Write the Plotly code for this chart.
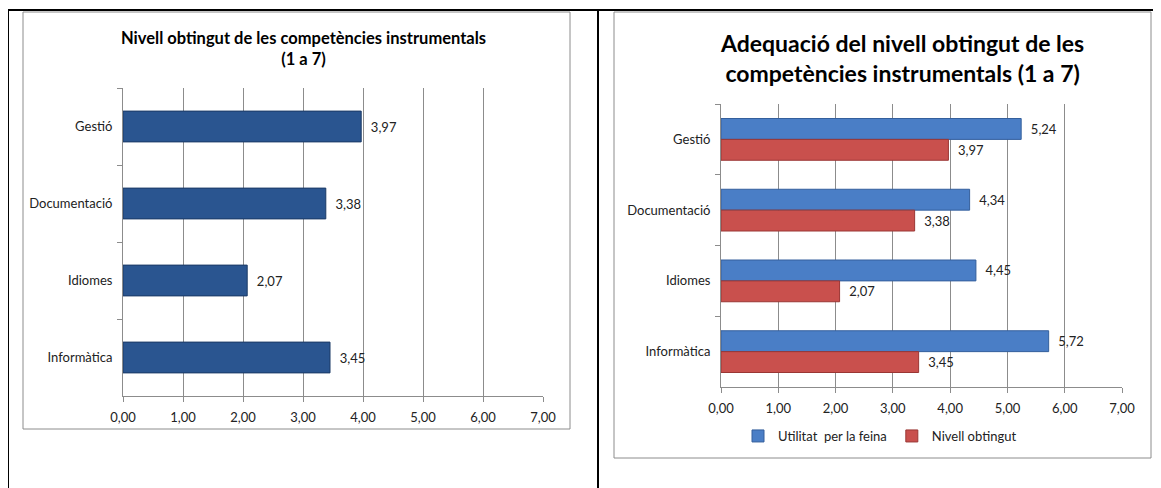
import plotly.graph_objects as go

W, H = 1161, 488

categories = ["Gestió", "Documentació", "Idiomes", "Informàtica"]
nivell_obtingut = [3.97, 3.38, 2.07, 3.45]
utilitat_feina = [5.24, 4.34, 4.45, 5.72]
x_ticks = [0, 1, 2, 3, 4, 5, 6, 7]

title_left = "Nivell obtingut de les competències instrumentals<br>(1 a 7)"
title_right = "Adequació del nivell obtingut de les<br>competències instrumentals (1 a 7)"
name_util = "Utilitat  per la feina"
name_niv = "Nivell obtingut"

FONT = "Lato, 'Open Sans', sans-serif"
GRID = "#8c8c8c"
OFF = 8  # page body margin compensation


def px(x):
    return (x - OFF) / W


def py(y):
    return 1 - (y - OFF) / H


fig = go.Figure()

fig.add_trace(go.Bar(
    y=categories, x=nivell_obtingut, orientation="h", width=0.4,
    marker=dict(color="#2a5590", line=dict(color="#1b3a66", width=1)),
    texttemplate="  %{x:.2f}", textposition="outside",
    textfont=dict(size=13, color="#222", family=FONT),
    cliponaxis=False, showlegend=False, xaxis="x", yaxis="y",
))

fig.add_trace(go.Bar(
    y=categories, x=utilitat_feina, orientation="h", name=name_util,
    marker=dict(color="#4a7ec6", line=dict(color="#345f9c", width=1)),
    texttemplate="  %{x:.2f}", textposition="outside",
    textfont=dict(size=13, color="#222", family=FONT),
    cliponaxis=False, xaxis="x2", yaxis="y2",
))
fig.add_trace(go.Bar(
    y=categories, x=nivell_obtingut, orientation="h", name=name_niv,
    marker=dict(color="#c9504d", line=dict(color="#9a3634", width=1)),
    texttemplate="  %{x:.2f}", textposition="outside",
    textfont=dict(size=13, color="#222", family=FONT),
    cliponaxis=False, xaxis="x2", yaxis="y2",
))

xax = dict(range=[0, 7], tickvals=x_ticks, tickformat=".2f", automargin=False,
           showgrid=True, gridcolor=GRID, gridwidth=1,
           showline=True, linecolor=GRID, linewidth=1,
           ticks="outside", ticklen=5, tickcolor=GRID, zeroline=False,
           ticklabelstandoff=4,
           tickfont=dict(size=13, color="#222", family=FONT), fixedrange=True)
yax = dict(autorange="reversed", showline=True, linecolor=GRID, linewidth=1,
           ticks="outside", ticklen=5, tickcolor=GRID, tickson="boundaries",
           showgrid=False, ticklabelstandoff=7, automargin=False,
           tickfont=dict(size=13, color="#222", family=FONT), fixedrange=True)

shapes = []
shapes.append(dict(type="rect", xref="paper", yref="paper",
                   x0=px(23), x1=px(570), y0=py(429), y1=py(12),
                   line=dict(color=GRID, width=1), layer="below"))
shapes.append(dict(type="rect", xref="paper", yref="paper",
                   x0=px(614), x1=px(1151), y0=py(458), y1=py(12),
                   line=dict(color=GRID, width=1), layer="below"))
for x0, y0, x1, y1 in [(7, 10, 1170, 10), (8, 10, 8, 500), (598, 10, 598, 500)]:
    shapes.append(dict(type="line", xref="paper", yref="paper",
                       x0=px(x0), x1=px(x1), y0=py(y0), y1=py(y1),
                       line=dict(color="black", width=2)))

annotations = [
    dict(text=title_left, x=px(303), y=py(49), xref="paper", yref="paper",
         showarrow=False, xanchor="center", yanchor="middle",
         font=dict(size=16.5, color="black", family=FONT, weight="bold")),
    dict(text=title_right, x=px(902), y=py(58), xref="paper", yref="paper",
         showarrow=False, xanchor="center", yanchor="middle",
         font=dict(size=23, color="black", family=FONT, weight="bold")),
]

fig.update_layout(
    width=W, height=H, margin=dict(l=0, r=0, t=0, b=0, autoexpand=False),
    paper_bgcolor="white", plot_bgcolor="white",
    separators=",.",
    font=dict(family=FONT, size=13, color="#222"),
    barmode="group",
    xaxis=dict(domain=[px(123), px(543)], anchor="y", **xax),
    yaxis=dict(domain=[py(396), py(88)], anchor="x", **yax),
    xaxis2=dict(domain=[px(721), px(1122)], anchor="y2", **xax),
    yaxis2=dict(domain=[py(387), py(104)], anchor="x2", **yax),
    bargap=0.41,
    legend=dict(orientation="h", x=px(880), y=py(436), xanchor="center",
                yanchor="middle", font=dict(size=13, color="#222", family=FONT),
                itemwidth=30, bgcolor="rgba(0,0,0,0)"),
    shapes=shapes, annotations=annotations,
)

fig.write_html("out.html")
